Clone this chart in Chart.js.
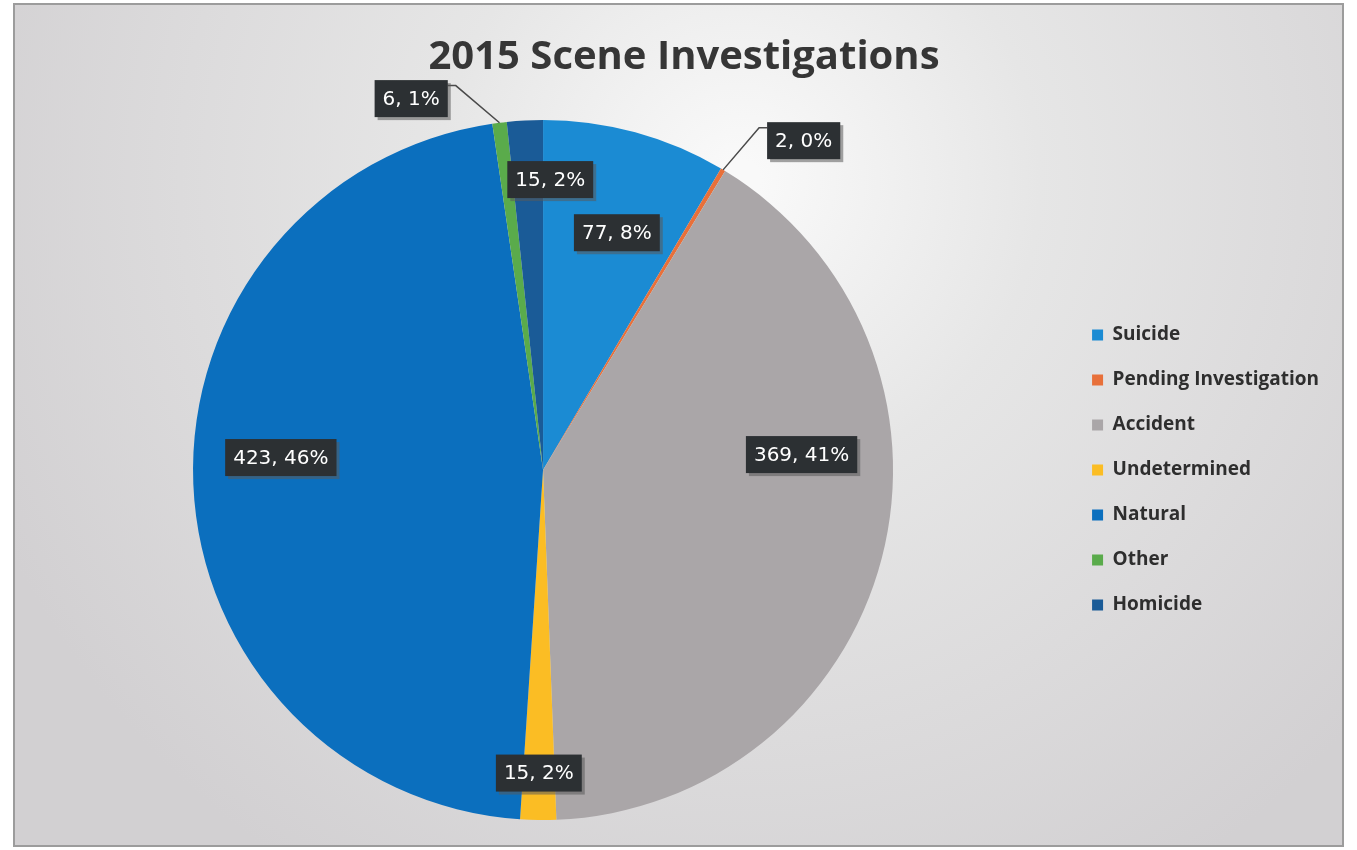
<!DOCTYPE html>
<html>
<head>
<meta charset="utf-8">
<title>2015 Scene Investigations</title>
<script src="https://cdn.jsdelivr.net/npm/chart.js@4/dist/chart.umd.min.js"></script>
<style>
    html, body { margin: 0; padding: 0; background: #ffffff; }
    #wrap { position: relative; width: 1357px; height: 850px; }
</style>
</head>
<body>
<div id="wrap"><canvas id="sceneChart" width="1357" height="850"></canvas></div>
<script>
    // values
    const chartTitle = '2015 Scene Investigations';
    const categories = ['Suicide', 'Pending Investigation', 'Accident', 'Undetermined', 'Natural', 'Other', 'Homicide'];
    const counts = [77, 2, 369, 15, 423, 6, 15];
    const percentLabels = ['8%', '0%', '41%', '2%', '46%', '1%', '2%'];
    const sliceColors = ['#1b8bd3', '#e8703a', '#aaa6a8', '#fbbd24', '#0b6fbe', '#5aab4b', '#1a5b97'];

    // label placement relative to each slice: radius factor, angle shift (deg), outside with leader
    const labelPlacement = [
        { r: 0.71, shift: 2 },
        { r: 1.2, shift: 7.4, outside: true },
        { r: 0.74, shift: -18 },
        { r: 0.866, shift: 0 },
        { r: 0.75, shift: 5 },
        { r: 1.126, shift: -12.4, outside: true },
        { r: 0.83, shift: 4.4 }
    ];

    const backgroundPlugin = {
        id: 'scanBackground',
        beforeDraw(chart) {
            const ctx = chart.ctx;
            const w = chart.width;
            const h = chart.height;
            ctx.save();
            ctx.fillStyle = '#ffffff';
            ctx.fillRect(0, 0, w, h);
            const grad = ctx.createRadialGradient(740, 180, 20, 740, 180, 820);
            grad.addColorStop(0, '#f9f9f9');
            grad.addColorStop(0.35, '#e6e6e6');
            grad.addColorStop(1, '#d2d0d2');
            ctx.fillStyle = grad;
            ctx.fillRect(14, 4, w - 28, h - 8);
            ctx.strokeStyle = '#9c9c9c';
            ctx.lineWidth = 2;
            ctx.strokeRect(14, 4, w - 28, h - 8);

            // title, centred a little right of the canvas middle as in the original
            ctx.fillStyle = '#363636';
            ctx.font = 'bold 40px "Open Sans", sans-serif';
            ctx.textAlign = 'center';
            ctx.textBaseline = 'middle';
            ctx.fillText(chartTitle, 684, 58);
            ctx.restore();
        }
    };

    function drawLabelBox(ctx, text, cx, cy) {
        ctx.font = '20px "DejaVu Sans", sans-serif';
        const tw = ctx.measureText(text).width;
        const bw = tw + 16;
        const bh = 37;
        ctx.fillStyle = 'rgba(90, 90, 90, 0.55)';
        ctx.fillRect(cx - bw / 2 + 3, cy - bh / 2 + 3, bw, bh);
        ctx.fillStyle = '#2c3033';
        ctx.fillRect(cx - bw / 2, cy - bh / 2, bw, bh);
        ctx.fillStyle = '#ffffff';
        ctx.textAlign = 'center';
        ctx.textBaseline = 'middle';
        ctx.fillText(text, cx, cy + 1);
    }

    const dataLabelPlugin = {
        id: 'sliceLabels',
        afterDatasetsDraw(chart) {
            const ctx = chart.ctx;
            const arcs = chart.getDatasetMeta(0).data;
            ctx.save();
            arcs.forEach((arc, i) => {
                const p = arc.getProps(['x', 'y', 'startAngle', 'endAngle', 'outerRadius'], true);
                const mid = (p.startAngle + p.endAngle) / 2;
                const place = labelPlacement[i];
                const ang = mid + place.shift * Math.PI / 180;
                const cx = p.x + Math.cos(ang) * p.outerRadius * place.r;
                const cy = p.y + Math.sin(ang) * p.outerRadius * place.r;
                const text = `${counts[i]}, ${percentLabels[i]}`;

                if (place.outside) {
                    ctx.font = '20px "DejaVu Sans", sans-serif';
                    const halfW = (ctx.measureText(text).width + 16) / 2;
                    const ex = p.x + Math.cos(mid) * p.outerRadius;
                    const ey = p.y + Math.sin(mid) * p.outerRadius;
                    const side = cx > p.x ? -1 : 1;
                    const boxEdge = cx + side * halfW;
                    const elbowX = boxEdge + side * 8;
                    const elbowY = cy - 13;
                    ctx.strokeStyle = '#4a4a4a';
                    ctx.lineWidth = 1.5;
                    ctx.beginPath();
                    ctx.moveTo(ex, ey);
                    ctx.lineTo(elbowX, elbowY);
                    ctx.lineTo(boxEdge, elbowY);
                    ctx.stroke();
                }
                drawLabelBox(ctx, text, cx, cy);
            });
            ctx.restore();
        }
    };

    new Chart(document.getElementById('sceneChart'), {
        type: 'pie',
        data: {
            labels: categories,
            datasets: [{
                data: counts,
                backgroundColor: sliceColors,
                borderWidth: 0
            }]
        },
        options: {
            responsive: false,
            animation: false,
            layout: { padding: { left: 20, right: 28, top: 120, bottom: 30 } },
            plugins: {
                title: { display: false },
                legend: {
                    position: 'right',
                    fullSize: false,
                    labels: {
                        color: '#2e2e2e',
                        boxWidth: 11,
                        boxHeight: 11,
                        padding: 26,
                        font: { family: '"Open Sans", sans-serif', size: 19, weight: 'bold' }
                    }
                },
                tooltip: { enabled: false }
            }
        },
        plugins: [backgroundPlugin, dataLabelPlugin]
    });
</script>
</body>
</html>
